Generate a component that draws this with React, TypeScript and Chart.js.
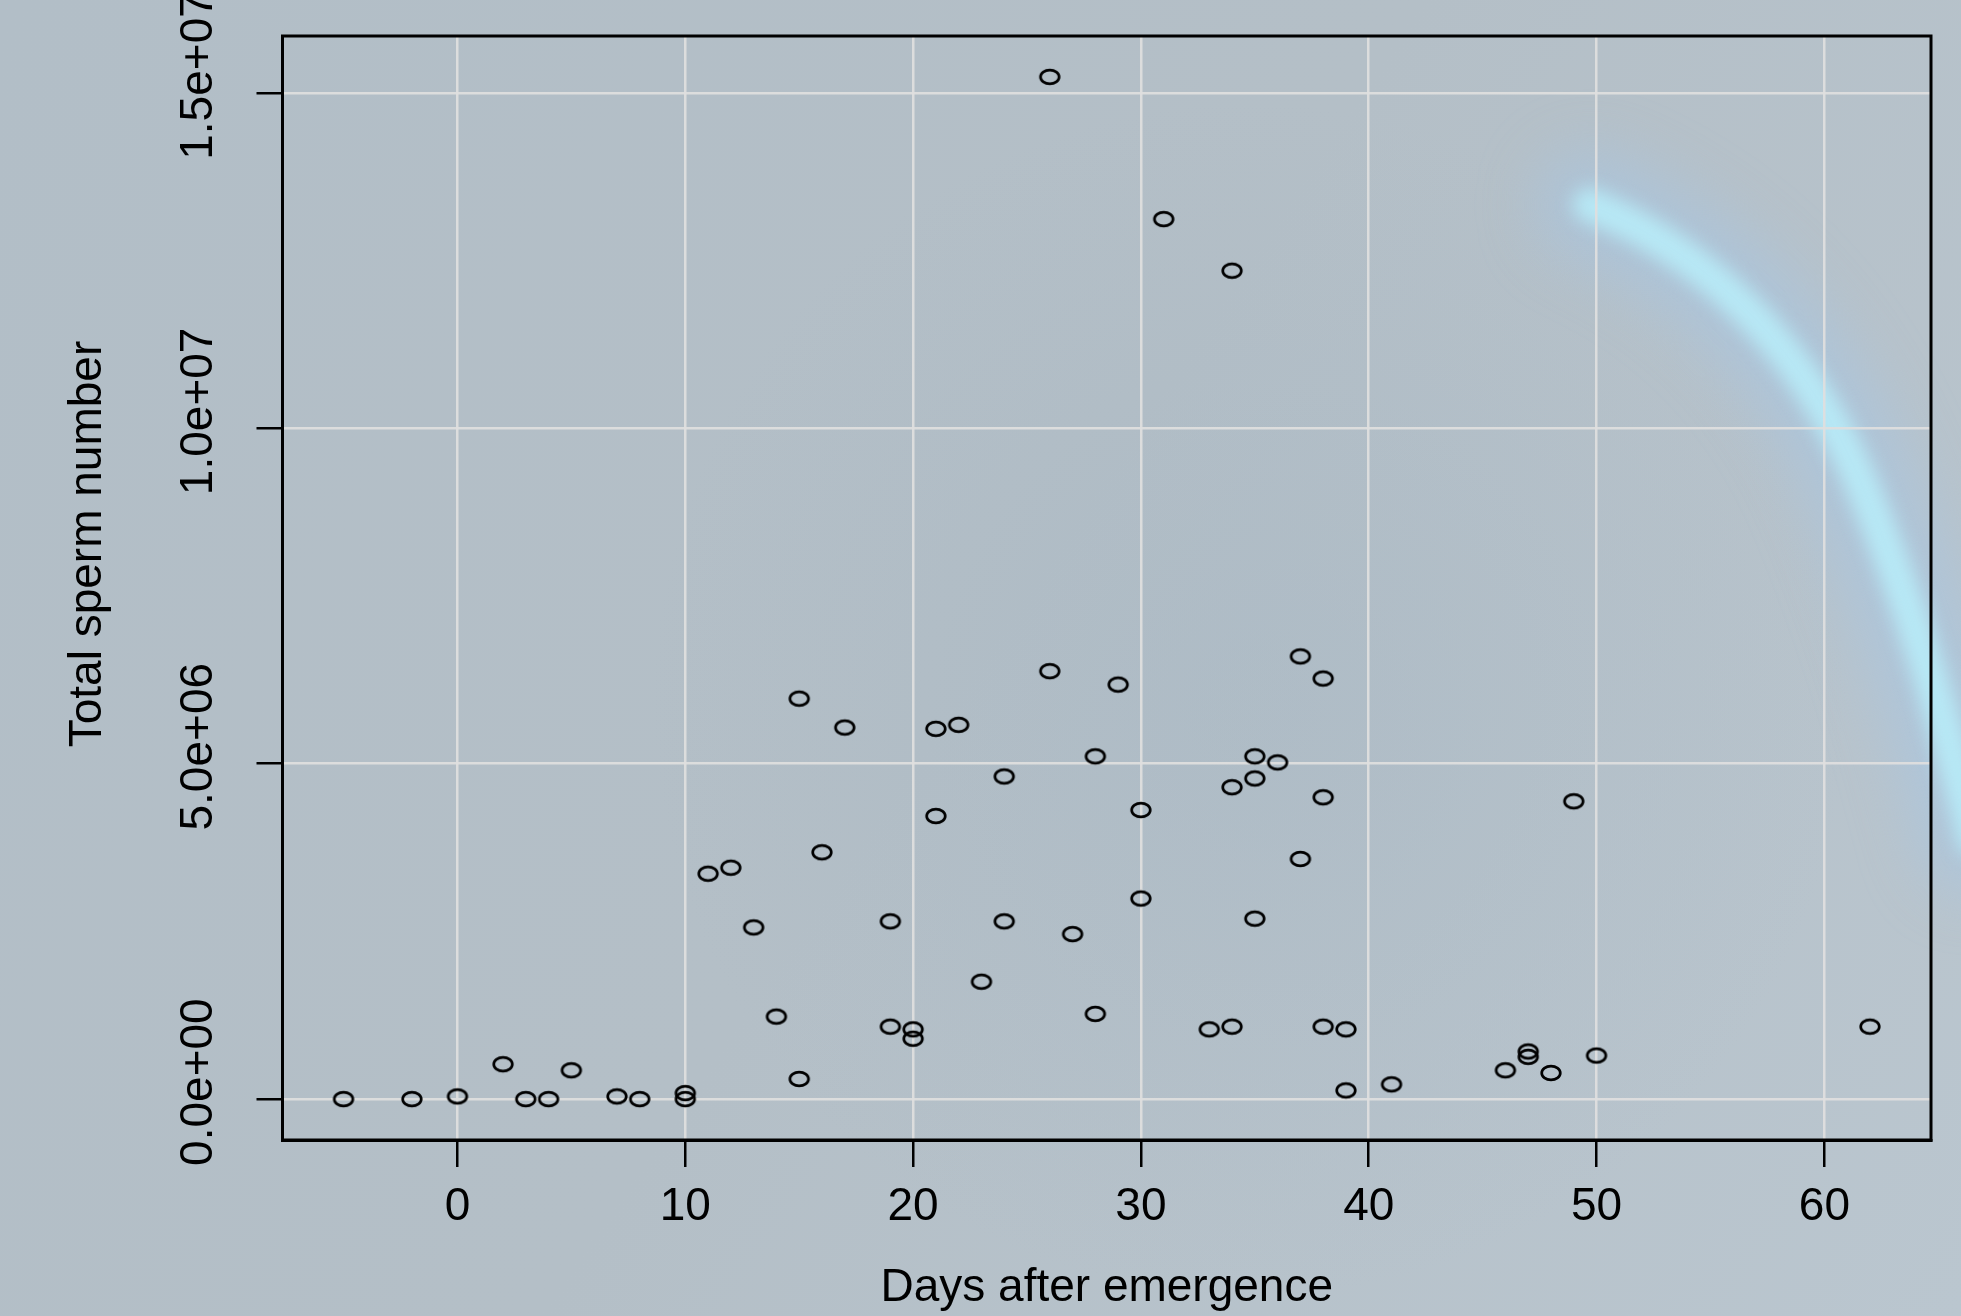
import React, { useEffect, useRef } from "react";
import { Chart, registerables } from "chart.js";

Chart.register(...registerables);

// ---- data ----
const days: number[] = [
  -5, -2, 0, 2, 3, 4, 5, 7, 8, 10, 10, 11, 12, 13, 14, 15, 15, 16, 17, 19, 19, 20, 20, 21, 21, 22, 23, 24, 24, 26,
  26, 27, 28, 28, 29, 30, 30, 31, 33, 34, 34, 34, 35, 35, 35, 36, 37, 37, 38, 38, 38, 39, 39, 41, 46, 47, 47, 48,
  49, 50, 62,
];
const spermCounts: number[] = [
  0, 0, 40000, 520000, 0, 0, 430000, 40000, 0, 90000, 0, 3360000, 3450000, 2560000, 1230000, 5970000, 300000,
  3680000, 5540000, 2650000, 1080000, 1040000, 900000, 5520000, 4220000, 5580000, 1750000, 4810000, 2650000,
  15240000, 6380000, 2460000, 5110000, 1270000, 6180000, 4310000, 2990000, 13120000, 1040000, 12350000, 4650000,
  1080000, 5110000, 4780000, 2690000, 5020000, 6600000, 3580000, 6270000, 4500000, 1080000, 1040000, 130000,
  220000, 430000, 710000, 630000, 390000, 4440000, 650000, 1080000,
];
const xTicks: number[] = [0, 10, 20, 30, 40, 50, 60];
const yTicks: number[] = [0, 5000000, 10000000, 15000000];
const yTickLabels: string[] = ["0.0e+00", "5.0e+06", "1.0e+07", "1.5e+07"];
const xTitle = "Days after emergence";
const yTitle = "Total sperm number";

const FONT = "'Liberation Sans', Arial, Helvetica, sans-serif";

function padRange(vals: number[]) {
  const lo = Math.min(...vals);
  const hi = Math.max(...vals);
  const d = (hi - lo) * 0.04;
  return [lo - d, hi + d];
}

function makeMarker(): HTMLCanvasElement {
  const c = document.createElement("canvas");
  c.width = 26;
  c.height = 20;
  const g = c.getContext("2d")!;
  g.beginPath();
  g.ellipse(13, 10, 9.3, 6.8, 0, 0, Math.PI * 2);
  g.lineWidth = 2.7;
  g.strokeStyle = "#000";
  g.stroke();
  return c;
}

const backgroundPlugin = {
  id: "bgPlugin",
  beforeDraw(chart: any) {
    const { ctx, width, height } = chart;
    ctx.save();
    const grad = ctx.createLinearGradient(0, 0, width, height);
    grad.addColorStop(0, "rgb(178,190,199)");
    grad.addColorStop(0.5, "rgb(180,191,199)");
    grad.addColorStop(1, "rgb(186,198,207)");
    ctx.fillStyle = grad;
    ctx.fillRect(0, 0, width, height);

    // soft darker patch in the middle
    const rg = ctx.createRadialGradient(1250, 700, 50, 1250, 700, 600);
    rg.addColorStop(0, "rgba(160,178,192,0.3)");
    rg.addColorStop(1, "rgba(160,178,192,0)");
    ctx.fillStyle = rg;
    ctx.fillRect(0, 0, width, height);

    // cyan light streak
    const path = () => {
      ctx.beginPath();
      ctx.moveTo(1590, 205);
      ctx.bezierCurveTo(1700, 250, 1800, 340, 1860, 480);
      ctx.bezierCurveTo(1910, 600, 1945, 720, 1975, 840);
    };
    ctx.lineCap = "round";
    ctx.filter = "blur(28px)";
    path();
    ctx.strokeStyle = "rgba(165,200,232,0.5)";
    ctx.lineWidth = 110;
    ctx.stroke();
    ctx.filter = "blur(9px)";
    path();
    ctx.strokeStyle = "rgba(185,238,250,0.85)";
    ctx.lineWidth = 34;
    ctx.stroke();
    ctx.filter = "none";
    ctx.restore();
  },
  afterDraw(chart: any) {
    const { ctx, chartArea } = chart;
    ctx.save();
    ctx.strokeStyle = "#000";
    ctx.lineWidth = 3;
    ctx.strokeRect(chartArea.left, chartArea.top, chartArea.right - chartArea.left, chartArea.bottom - chartArea.top);
    // y axis title
    ctx.translate(88, 544);
    ctx.rotate(-Math.PI / 2);
    ctx.font = `46px ${FONT}`;
    ctx.fillStyle = "#000";
    ctx.textAlign = "center";
    ctx.textBaseline = "middle";
    ctx.fillText(yTitle, 0, 0);
    ctx.restore();
  },
};

export default function App() {
  const ref = useRef<HTMLCanvasElement | null>(null);

  useEffect(() => {
    document.body.style.margin = "0";
    const canvas = ref.current!;
    const [xMin, xMax] = padRange(days);
    const [yMin, yMax] = padRange(spermCounts);
    const marker = makeMarker();

    const chart = new Chart(canvas, {
      type: "scatter",
      data: {
        datasets: [
          {
            data: days.map((d, i) => ({ x: d, y: spermCounts[i] })),
            pointStyle: marker as any,
            pointRadius: 10,
            pointHoverRadius: 10,
          },
        ],
      },
      options: {
        animation: false,
        responsive: false,
        devicePixelRatio: 1,
        layout: { padding: { left: 0, right: 30, top: 36, bottom: 0 } },
        plugins: { legend: { display: false }, tooltip: { enabled: false } },
        scales: {
          x: {
            type: "linear",
            min: xMin,
            max: xMax,
            afterBuildTicks: (s: any) => {
              s.ticks = xTicks.map((v) => ({ value: v }));
            },
            afterFit: (s: any) => {
              s.height = 176;
            },
            grid: {
              color: "rgba(222,222,222,0.95)",
              lineWidth: 2.5,
              tickColor: "#000",
              tickWidth: 2.5,
              tickLength: 27,
            },
            border: { display: true, color: "#000", width: 3 },
            ticks: {
              color: "#000",
              font: { family: FONT, size: 46 },
              padding: 13,
              maxRotation: 0,
              minRotation: 0,
              callback: (v: any) => String(v),
            },
            title: {
              display: true,
              text: xTitle,
              color: "#000",
              font: { family: FONT, size: 46 },
              padding: { top: 0, bottom: 0 },
            },
          },
          y: {
            type: "linear",
            min: yMin,
            max: yMax,
            afterBuildTicks: (s: any) => {
              s.ticks = yTicks.map((v) => ({ value: v }));
            },
            afterFit: (s: any) => {
              s.width = 282.5;
            },
            grid: {
              color: "rgba(222,222,222,0.95)",
              lineWidth: 2.5,
              tickColor: "#000",
              tickWidth: 2.5,
              tickLength: 26,
            },
            border: { display: true, color: "#000", width: 3 },
            ticks: {
              color: "#000",
              font: { family: FONT, size: 46 },
              minRotation: 90,
              maxRotation: 90,
              crossAlign: "center",
              padding: -27,
              labelOffset: -17,
              callback: (_v: any, i: number) => yTickLabels[i],
            },
          },
        },
      },
      plugins: [backgroundPlugin],
    });
    return () => chart.destroy();
  }, []);

  return <canvas ref={ref} width={1961} height={1316} style={{ display: "block", width: 1961, height: 1316 }} />;
}
